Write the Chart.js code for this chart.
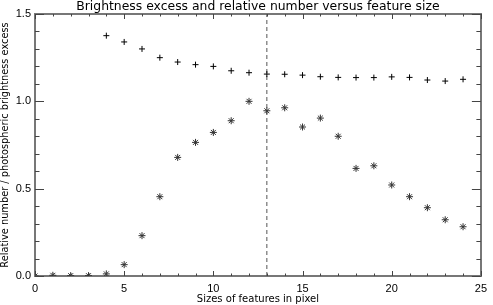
<!DOCTYPE html>
<html>
<head>
<meta charset="utf-8">
<script src="https://cdn.jsdelivr.net/npm/chart.js@4"></script>
<style>
  html, body { margin: 0; padding: 0; background: #fff; }
  #wrap { width: 493px; height: 305px; }
</style>
</head>
<body>
<div id="wrap"><canvas id="chart" width="493" height="305"></canvas></div>
<script>
// --- datos ---
const sizes = [0, 1, 2, 3, 4, 5, 6, 7, 8, 9, 10, 11, 12, 13, 14, 15, 16, 17, 18, 19, 20, 21, 22, 23, 24];
const brightnessExcess = [null, null, null, null, 1.376, 1.34, 1.30, 1.25, 1.225, 1.21, 1.20, 1.175, 1.164,
  1.156, 1.155, 1.15, 1.141, 1.137, 1.136, 1.136, 1.14, 1.137, 1.122, 1.116, 1.126];
const relativeNumber = [0.0, 0.004, 0.002, 0.002, 0.012, 0.065, 0.231, 0.454, 0.679, 0.765, 0.822, 0.889, 1.0,
  0.946, 0.963, 0.853, 0.904, 0.80, 0.616, 0.631, 0.521, 0.454, 0.391, 0.322, 0.282];
const markerSize = [13];
const xTicks = [0, 5, 10, 15, 20, 25];
const yTicks = [0, 0.5, 1.0, 1.5];

const AXIS = '#777';
const TICK = '#444';
const FONT = 'Liberation Sans, Arial, sans-serif';
const TFONT = 'DejaVu Sans, sans-serif';

// ticks hacia adentro en los cuatro lados (estilo IDL)
const inwardTicks = {
  id: 'inwardTicks',
  afterDraw(chart) {
    const { ctx, chartArea: a, scales: { x, y } } = chart;
    ctx.save();
    ctx.strokeStyle = TICK;
    ctx.lineWidth = 1;
    ctx.beginPath();
    for (let v = 0; v <= 25; v++) {
      const px = Math.round(x.getPixelForValue(v)) + 0.5;
      const len = (v % 5 === 0) ? 5 : 2.5;
      ctx.moveTo(px, a.bottom); ctx.lineTo(px, a.bottom - len);
      ctx.moveTo(px, a.top); ctx.lineTo(px, a.top + len);
    }
    for (let i = 0; i <= 15; i++) {
      const py = Math.round(y.getPixelForValue(i / 10)) + 0.5;
      const len = (i % 5 === 0) ? 9 : 4.5;
      ctx.moveTo(a.left, py); ctx.lineTo(a.left + len, py);
      ctx.moveTo(a.right, py); ctx.lineTo(a.right - len, py);
    }
    ctx.stroke();
    ctx.restore();
  }
};

new Chart(document.getElementById('chart'), {
  type: 'scatter',
  data: {
    datasets: [
      {
        label: 'brightness',
        data: sizes.map((s, i) => ({ x: s, y: brightnessExcess[i] })),
        pointStyle: 'cross', pointRadius: 3, borderColor: '#000', borderWidth: 1
      },
      {
        label: 'number',
        data: sizes.map((s, i) => ({ x: s, y: relativeNumber[i] })),
        pointStyle: 'star', pointRadius: 3.5, borderColor: '#333', borderWidth: 1
      },
      {
        label: 'size',
        type: 'line',
        data: [{ x: markerSize[0], y: yTicks[0] }, { x: markerSize[0], y: yTicks[yTicks.length - 1] }],
        borderColor: '#555', borderWidth: 1, borderDash: [4, 3], pointRadius: 0, fill: false
      }
    ]
  },
  options: {
    responsive: false,
    animation: false,
    devicePixelRatio: 1,
    layout: { padding: { left: 0, right: 7, top: 0, bottom: 0 } },
    plugins: { legend: { display: false }, tooltip: { enabled: false }, title: { display: false } },
    scales: {
      x: {
        type: 'linear', position: 'bottom', min: 0, max: 25,
        afterBuildTicks: s => { s.ticks = xTicks.map(v => ({ value: v })); },
        afterFit: s => { s.height = 29; },
        grid: { display: false, drawTicks: false },
        border: { display: true, color: AXIS, width: 2 },
        ticks: { padding: 6, color: '#000', font: { family: FONT, size: 11 }, maxRotation: 0 },
        title: { display: true, text: 'Sizes of features in pixel', color: '#000',
          font: { family: TFONT, size: 10, lineHeight: 1.2 }, padding: { top: 0, bottom: 0 } }
      },
      x2: {
        type: 'linear', position: 'top', min: 0, max: 25,
        afterFit: s => { s.height = 14; },
        grid: { display: false, drawTicks: false },
        border: { display: true, color: AXIS, width: 2 },
        ticks: { display: false },
        title: { display: true, text: 'Brightness excess and relative number versus feature size', color: '#000',
          font: { family: TFONT, size: 12.4, lineHeight: 1 }, padding: { top: 1, bottom: 0 } }
      },
      y: {
        type: 'linear', position: 'left', min: 0, max: 1.5,
        afterBuildTicks: s => { s.ticks = yTicks.map(v => ({ value: v })); },
        afterFit: s => { s.width = 35; },
        grid: { display: false, drawTicks: false },
        border: { display: true, color: AXIS, width: 2 },
        ticks: { padding: 4, color: '#000', font: { family: FONT, size: 11 }, callback: v => v.toFixed(1) },
        title: { display: true, text: 'Relative number / photospheric brightness excess', color: '#000',
          font: { family: TFONT, size: 9.8, lineHeight: 1.2 }, padding: { top: 0, bottom: 0 } }
      },
      y2: {
        type: 'linear', position: 'right', min: 0, max: 1.5,
        afterFit: s => { s.width = 0; },
        grid: { display: false, drawTicks: false },
        border: { display: true, color: AXIS, width: 2 },
        ticks: { display: false }
      }
    }
  },
  plugins: [inwardTicks]
});
</script>
</body>
</html>
